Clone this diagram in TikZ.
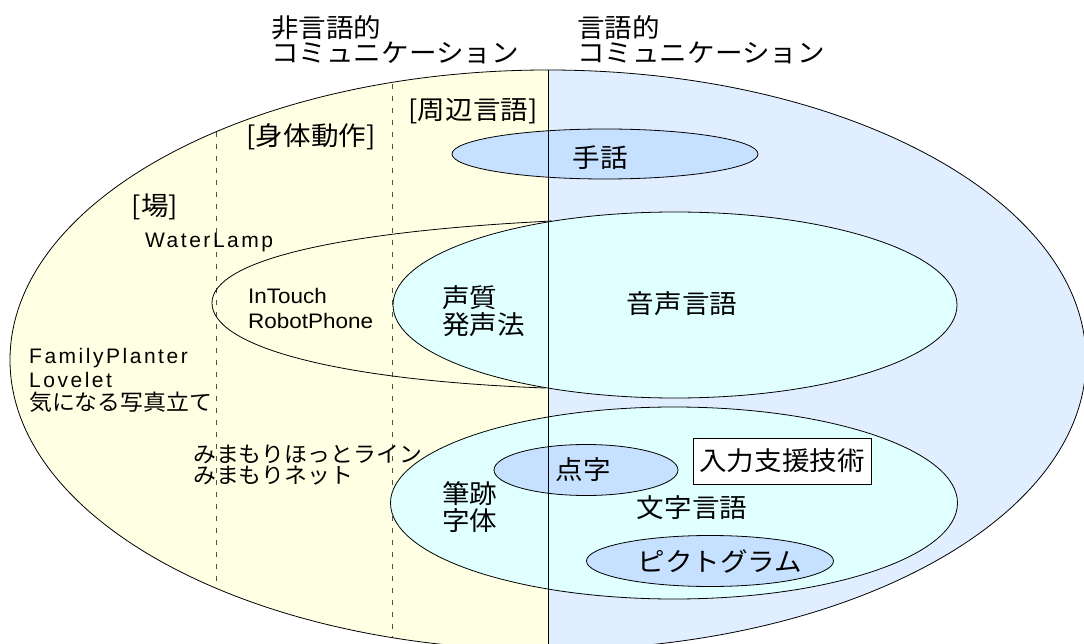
\documentclass[tikz,border=0pt]{standalone}
\usepackage{fontspec}
\setmainfont{Noto Sans CJK JP}
\newfontfamily\jpL[FakeStretch=1.06]{Noto Sans CJK JP}
\newfontfamily\jpS[FakeStretch=1.04]{Noto Sans CJK JP}
\newfontfamily\latA[FakeStretch=1.07]{Liberation Sans}
\newfontfamily\latB[LetterSpace=12]{Liberation Sans}
\usetikzlibrary{shapes.geometric}
\definecolor{yel}{RGB}{255,255,228}
\definecolor{blueL}{RGB}{224,238,255}
\definecolor{cyanL}{RGB}{224,255,255}
\definecolor{blueD}{RGB}{198,224,255}
\definecolor{dashgray}{RGB}{80,80,80}
\begin{document}
\begin{tikzpicture}[x=1pt,y=-1pt,
  outl/.style={draw=black,line width=0.8pt},
  dashline/.style={draw=dashgray,line width=1pt,dash pattern=on 5pt off 7pt},
  ell/.style={ellipse,outl,inner sep=0pt},
  bigtxt/.style={font=\jpL\fontsize{26}{27}\selectfont,inner sep=0pt},
  smalltxt/.style={font=\jpS\fontsize{22}{23}\selectfont,inner sep=0pt},
  lattxt/.style={font=\latA\fontsize{21}{25}\selectfont,inner sep=0pt},
  latsp/.style={font=\latB\fontsize{21}{25}\selectfont,inner sep=0pt}]
\useasboundingbox (0,0) rectangle (1084,644);
% halves of the big ellipse
\begin{scope}
  \clip (0,0) rectangle (548,700);
  \fill[yel] (548,360) ellipse [x radius=538, y radius=290];
\end{scope}
\begin{scope}
  \clip (548,0) rectangle (1200,700);
  \fill[blueL] (548,360) ellipse [x radius=538, y radius=290];
\end{scope}
% dashed separators
\begin{scope}
  \clip (548,360) ellipse [x radius=538, y radius=290];
  \draw[dashline] (216,0) -- (216,700);
  \draw[dashline] (392,0) -- (392,700);
\end{scope}
% horn shape
\draw[outl] (552,221) .. controls (330,232) and (212,262) .. (212,303)
  .. controls (212,345) and (330,380) .. (545,388);
% inner ellipses
\node[ell,fill=cyanL,minimum width=564pt,minimum height=186pt] (onseiE) at (675,305) {};
\node[ell,fill=cyanL,minimum width=567pt,minimum height=192pt] (mojiE) at (674,503) {};
\node[ell,fill=blueD,minimum width=306pt,minimum height=50pt] (shuwaE) at (605,154) {};
\node[ell,fill=blueD,minimum width=184pt,minimum height=51pt] (tenjiE) at (586,470) {};
\node[ell,fill=blueD,minimum width=247pt,minimum height=51pt] (pictE) at (710,561) {};
% central line and outline
\draw[outl] (548,70) -- (548,700);
\draw[outl] (548,360) ellipse [x radius=538, y radius=290];
% box
\node[draw=black,line width=0.8pt,fill=white,minimum width=178pt,minimum height=46pt,inner sep=0pt] (boxN) at (782,461) {};
\node[bigtxt] (boxT) at (782,461) {入力支援技術};
% titles
\node[bigtxt,anchor=west] (tl1) at (271,28) {非言語的};
\node[bigtxt,anchor=west] (tl2) at (271,52.5) {コミュニケーション};
\node[bigtxt,anchor=west] (tr1) at (577,28) {言語的};
\node[bigtxt,anchor=west] (tr2) at (577,52.5) {コミュニケーション};
% category labels
\node[bigtxt] (shuhen) at (473,111) {[周辺言語]};
\node[bigtxt] (shintai) at (311,137) {[身体動作]};
\node[bigtxt] (ba) at (155,207) {[場]};
% inner labels
\node[bigtxt] (shuwaT) at (600,158) {手話};
\node[bigtxt] (onseiT) at (682,304) {音声言語};
\node[bigtxt,anchor=west] (seishitsu) at (442,297.5) {声質};
\node[bigtxt,anchor=west] (hassei) at (442,325) {発声法};
\node[bigtxt,anchor=west] (hisseki) at (442,494) {筆跡};
\node[bigtxt,anchor=west] (jitai) at (442,521) {字体};
\node[bigtxt] (tenjiT) at (583,470) {点字};
\node[bigtxt] (mojiT) at (692,508) {文字言語};
\node[bigtxt] (pictT) at (720,561) {ピクトグラム};
% example systems
\node[latsp,anchor=base west] (water) at (145,248) {WaterLamp};
\node[lattxt,anchor=base west] (intouch) at (248,303) {InTouch};
\node[lattxt,anchor=base west] (robot) at (248,328) {RobotPhone};
\node[latsp,anchor=base west] (family) at (29,363) {FamilyPlanter};
\node[latsp,anchor=base west] (lovelet) at (29,387) {Lovelet};
\node[smalltxt,anchor=west] (kini) at (29,402) {気になる写真立て};
\node[smalltxt,anchor=west] (mimahot) at (193,454) {みまもりほっとライン};
\node[smalltxt,anchor=west] (mimanet) at (193,476) {みまもりネット};
\end{tikzpicture}
\end{document}
